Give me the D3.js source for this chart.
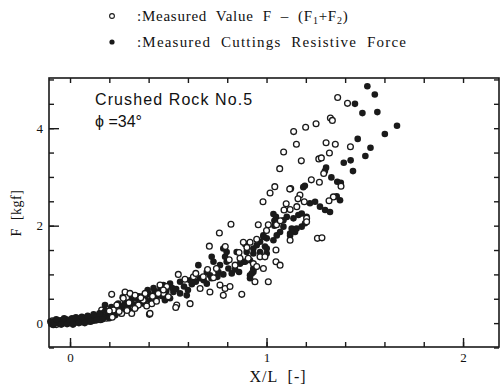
<!DOCTYPE html>
<html>
<head>
<meta charset="utf-8">
<script src="https://cdn.jsdelivr.net/npm/d3@7"></script>
<style>
body { margin: 0; background: #fff; }
text { fill: #111; white-space: pre; }
</style>
</head>
<body>
<script>
// F - (F1+F2), open circles  [X/L, F]
var measuredNet = [
[1.362,4.63],[1.412,4.51],[1.325,4.21],[1.335,4.16],[1.252,4.09],[1.199,4.02],[1.138,3.93],[1.152,3.67],[1.303,3.70],[1.350,3.67],
[1.320,3.49],[1.427,3.62],[1.177,3.33],[1.266,3.37],[1.279,3.39],[1.291,3.07],[1.228,2.94],[1.269,2.89],[1.379,2.81],[1.123,2.76],
[1.170,2.63],[1.340,2.59],[1.087,3.51],[1.067,3.17],[0.982,2.49],[1.018,2.67],[1.042,2.80],[1.118,2.75],[0.958,2.02],[1.009,2.02],
[1.089,2.32],[1.120,2.33],[1.154,2.39],[1.192,2.49],[1.318,2.51],[1.204,2.15],[1.051,2.02],[1.259,1.74],[1.282,1.75],[1.120,1.70],
[1.204,2.08],[0.882,1.66],[0.916,1.66],[1.048,1.50],[0.967,1.36],[0.992,1.36],[0.933,1.22],[1.048,1.26],[1.069,1.19],[0.941,0.85],
[1.009,0.85],[0.865,1.33],[0.709,1.58],[0.760,1.85],[0.819,2.03],[0.790,1.57],[0.874,0.59],[0.551,1.00],[0.628,0.95],[0.678,0.95],
[0.730,0.93],[0.763,0.78],[0.789,0.71],[0.814,0.75],[0.662,0.71],[0.712,0.64],[0.780,0.57],[0.543,0.37],[0.611,0.40],[0.492,0.75],
[0.475,0.61],[0.907,1.33],[0.984,1.12],[0.950,1.16],[0.840,1.19],[0.538,0.32],[0.404,0.18],[0.585,0.90],[0.640,1.02],[0.700,1.10],
[0.745,1.12],[0.810,1.30],[0.860,1.45],[0.900,1.55],[0.950,1.72],[1.000,1.90],[1.070,2.10],[1.100,2.45],[1.160,2.55],
[0.212,0.59],[0.280,0.64],[0.305,0.61],[0.271,0.51],[0.331,0.57],[0.382,0.61],[0.238,0.37],[0.221,0.27],[0.263,0.20],[0.314,0.20],
[0.161,0.27],[0.407,0.20],[0.458,0.78],[0.475,0.68],[0.449,0.61],[0.500,0.54],[0.348,0.37],[0.373,0.47],[0.416,0.40],[0.093,0.13],
[-0.09,0.05],[-0.07,-0.03],[-0.055,0.03],[-0.04,-0.01],[-0.025,0.05],[-0.01,0.00],[0.005,0.06],[0.02,0.00],[0.035,0.05],[0.05,0.09],
[0.065,0.03],[0.08,0.10],[0.095,0.04],[0.11,0.10],[0.125,0.06],[0.14,0.14],[0.155,0.07],[0.17,0.20],[0.185,0.10],[0.20,0.25],
[0.215,0.12],[0.25,0.24],[0.29,0.26],[0.30,0.42],[0.33,0.30],[0.36,0.52],[0.39,0.35],[0.42,0.55],[0.44,0.45]
];

// measured cuttings resistive force, filled dots
var cuttingForce = [
[1.513,4.86],[1.551,4.69],[1.450,4.50],[1.488,4.31],[1.564,4.33],[1.664,4.05],[1.602,3.88],[1.464,3.78],[1.529,3.60],[1.503,3.43],
[1.428,3.34],[1.393,3.29],[1.440,3.12],[1.303,3.19],[1.297,3.12],[1.330,2.99],[1.360,2.90],[1.378,2.88],[1.187,2.79],[1.195,2.82],
[1.035,2.24],[1.048,2.18],[1.103,2.18],[1.179,2.25],[1.204,2.18],[1.221,2.46],[1.247,2.49],[1.272,2.39],[1.298,2.32],[1.323,2.28],
[1.374,2.52],[1.357,2.60],[1.040,2.10],[1.040,2.00],[1.086,2.11],[1.137,2.15],[1.162,2.22],[1.128,1.94],[1.145,1.87],[1.120,1.80],
[1.120,1.84],[1.137,1.91],[1.153,1.94],[1.179,1.98],[1.196,2.05],[1.069,1.87],[1.052,1.80],[1.035,1.70],[1.086,1.98],
[0.984,1.80],[1.001,1.74],[0.967,1.67],[0.933,1.53],[0.899,1.46],[0.891,1.26],[0.933,1.05],[0.916,0.92],[0.984,1.77],[0.992,1.57],
[1.001,1.43],[0.933,1.43],[0.916,1.29],[0.933,1.09],[0.925,1.02],[0.882,1.26],[0.950,1.60],[0.967,1.46],[1.001,1.53],[0.933,1.12],
[0.916,0.98],[0.653,1.19],[0.721,1.36],[0.730,1.26],[0.780,1.53],[0.789,1.36],[0.797,1.26],[0.806,1.12],[0.823,1.02],[0.848,1.46],
[0.865,1.22],[0.763,1.19],[0.755,1.05],[0.696,1.05],[0.712,0.98],[0.662,0.92],[0.611,0.88],[0.560,0.85],[0.509,0.81],[0.475,0.78],
[0.526,0.64],[0.560,0.61],[0.594,0.57],[0.509,0.51],[0.483,0.47],[0.696,0.81],[0.797,1.46],[0.891,1.62],[0.268,0.53],[0.178,0.37],
[-0.095,-0.02],[-0.08,0.04],[-0.065,0.00],[-0.05,0.06],[-0.035,0.02],[-0.02,0.08],[-0.005,0.03],[0.01,0.10],[0.025,0.04],[0.04,0.09],
[0.055,0.02],[0.07,0.11],[0.085,0.06],[0.10,0.12],[0.115,0.05],[0.13,0.14],[0.145,0.09],[0.16,0.18],[0.175,0.12],[0.19,0.22],
[0.205,0.17],[0.22,0.30],[0.235,0.24],[0.25,0.36],[0.265,0.29],[0.28,0.42],[0.295,0.34],[0.31,0.45],[0.325,0.38],[0.34,0.50],
[0.355,0.43],[0.37,0.55],[0.385,0.48],[0.40,0.60],[0.415,0.52],[0.43,0.66],[0.445,0.57],[0.46,0.70],
[-0.10,0.03],[-0.085,-0.04],[-0.07,0.08],[-0.045,-0.03],[-0.03,0.10],[-0.015,-0.02],[0.00,0.07],[0.015,-0.03],[0.03,0.12],[0.045,0.00],
[0.06,0.13],[0.075,0.00],[0.09,0.15],[0.105,0.03],[0.12,0.18],[0.135,0.06],[0.15,0.20],[0.165,0.08],[0.18,0.26],[0.20,0.10],
[0.21,0.33],[0.23,0.16],[0.245,0.40],[0.26,0.20],[0.275,0.35],[0.30,0.27],[0.315,0.52],[0.335,0.33],[0.35,0.55],[0.375,0.40],
[0.395,0.68],[0.41,0.45],[0.425,0.72],[0.44,0.50],[0.455,0.62],[0.47,0.55],[0.49,0.66],[0.52,0.72],[0.54,0.70],[0.58,0.75],
[0.60,0.68],[0.62,0.80],[0.64,0.85],[0.68,0.88],[0.72,0.92],[0.75,0.95],[0.78,1.00],[0.84,1.10],[0.86,1.05]
];

var xTickLabels = [0, 1, 2];
var yTickLabels = [0, 2, 4];

var svgWidth = 502, svgHeight = 387;
var margin = {top: 78, right: 3, bottom: 40, left: 49};
var width = svgWidth - margin.left - margin.right;
var height = svgHeight - margin.top - margin.bottom;

var svg = d3.select("body").append("svg").attr("width", svgWidth).attr("height", svgHeight);
var chart = svg.append("g").attr("transform", `translate(${margin.left}, ${margin.top})`);

var x = d3.scaleLinear().domain([-0.107, 2.183]).range([0, width]);
var y = d3.scaleLinear().domain([-0.49, 5.03]).range([height, 0]);

var ink = "#1a1a1a";
var serif = "'Liberation Serif', 'DejaVu Serif', serif";

// frame
chart.append("rect").attr("width", width).attr("height", height)
  .attr("fill", "none").attr("stroke", ink).attr("stroke-width", 1.6);

// inward ticks, minor every 0.2 / 0.5
var xMinor = d3.range(0, 2.01, 0.2), yMinor = d3.range(-0.5, 5.01, 0.5);
chart.append("g").attr("transform", `translate(0, ${height})`)
  .call(d3.axisBottom(x).tickValues(xMinor).tickSize(-5).tickFormat(""))
  .call(g => g.select(".domain").remove());
chart.append("g")
  .call(d3.axisTop(x).tickValues(xMinor).tickSize(-5).tickFormat(""))
  .call(g => g.select(".domain").remove());
chart.append("g")
  .call(d3.axisLeft(y).tickValues(yMinor).tickSize(-5).tickFormat(""))
  .call(g => g.select(".domain").remove());
chart.append("g").attr("transform", `translate(${width}, 0)`)
  .call(d3.axisRight(y).tickValues(yMinor).tickSize(-5).tickFormat(""))
  .call(g => g.select(".domain").remove());
// major ticks with labels
chart.append("g").attr("transform", `translate(0, ${height})`)
  .call(d3.axisBottom(x).tickValues(xTickLabels).tickSize(-9).tickPadding(6).tickFormat(d3.format("d")))
  .call(g => g.select(".domain").remove())
  .call(g => g.selectAll("text").attr("font-family", serif).attr("font-size", 13));
chart.append("g")
  .call(d3.axisLeft(y).tickValues(yTickLabels).tickSize(-10).tickPadding(6).tickFormat(d3.format("d")))
  .call(g => g.select(".domain").remove())
  .call(g => g.selectAll("text").attr("font-family", serif).attr("font-size", 13));
chart.selectAll(".tick line").attr("stroke", ink).attr("stroke-width", 1.4);

// points: open circles near the origin sit under the dark band, the rest on top
function openDots(sel, cls) {
  return sel.enter().append("circle").attr("class", cls)
    .attr("cx", d => x(d[0])).attr("cy", d => y(d[1])).attr("r", 2.9)
    .attr("fill", "#fff").attr("stroke", ink).attr("stroke-width", 1.3);
}
openDots(chart.selectAll(".netLow").data(measuredNet.filter(d => d[0] < 0.2)), "netLow");
chart.selectAll(".cut").data(cuttingForce).enter().append("circle").attr("class", "cut")
  .attr("cx", d => x(d[0])).attr("cy", d => y(d[1])).attr("r", 3.3).attr("fill", ink);
openDots(chart.selectAll(".net").data(measuredNet.filter(d => d[0] >= 0.2)), "net");

// annotation
var sans = "'Liberation Sans', 'DejaVu Sans', sans-serif";
chart.append("text").attr("x", 46).attr("y", 27).attr("font-family", sans)
  .attr("font-size", 16).attr("letter-spacing", 1.1).text("Crushed Rock No.5");
chart.append("text").attr("x", 46).attr("y", 49).attr("font-family", sans)
  .attr("font-size", 16).text("\u03D5 =34\u00B0");

// axis labels
svg.append("text").attr("x", 278).attr("y", 382).attr("text-anchor", "middle")
  .attr("font-family", serif).attr("font-size", 16).attr("letter-spacing", 1).text("X/L  [-]");
svg.append("text").attr("transform", "translate(21, 213) rotate(-90)").attr("text-anchor", "middle")
  .attr("font-family", serif).attr("font-size", 14).attr("letter-spacing", 0.5).text("F  [kgf]");

// legend
var legend = svg.append("g").attr("font-family", serif).attr("font-size", 15);
legend.append("circle").attr("cx", 112).attr("cy", 16).attr("r", 2.4)
  .attr("fill", "#fff").attr("stroke", ink).attr("stroke-width", 1.1);
var t1 = legend.append("text").attr("x", 137).attr("y", 21).attr("letter-spacing", 0.75);
t1.append("tspan").text(":Measured  Value  F  \u2013  (F");
t1.append("tspan").attr("font-size", 10).attr("dy", 3).text("1");
t1.append("tspan").attr("dy", -3).text("+F");
t1.append("tspan").attr("font-size", 10).attr("dy", 3).text("2");
t1.append("tspan").attr("dy", -3).text(")");
legend.append("circle").attr("cx", 112).attr("cy", 42).attr("r", 2.6).attr("fill", ink);
legend.append("text").attr("x", 137).attr("y", 47).attr("letter-spacing", 1.2)
  .text(":Measured  Cuttings  Resistive  Force");
</script>
</body>
</html>
